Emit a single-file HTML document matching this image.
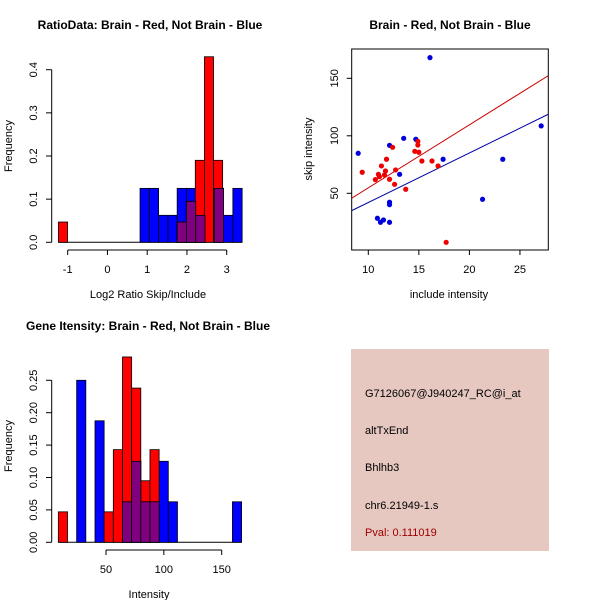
<!DOCTYPE html>
<html><head><meta charset="utf-8"><style>
body{margin:0;background:#fff}
svg{display:block}
text{font-family:"Liberation Sans",sans-serif;font-size:11px;fill:#000}
.t{font-weight:bold;font-size:12px}
</style></head><body>
<svg id="c" width="600" height="600" xmlns="http://www.w3.org/2000/svg">
<rect width="600" height="600" fill="#fff"/>
<text class="t" x="150" y="29" text-anchor="middle">RatioData: Brain - Red, Not Brain - Blue</text>
<text class="t" x="450" y="29" text-anchor="middle">Brain - Red, Not Brain - Blue</text>
<text class="t" x="148" y="330" text-anchor="middle">Gene Itensity: Brain - Red, Not Brain - Blue</text>
<text x="148" y="298" text-anchor="middle">Log2 Ratio Skip/Include</text>
<text x="449" y="298" text-anchor="middle">include intensity</text>
<text x="149" y="598" text-anchor="middle">Intensity</text>
<text transform="translate(12,146) rotate(-90)" text-anchor="middle">Frequency</text>
<text transform="translate(12,446) rotate(-90)" text-anchor="middle">Frequency</text>
<text transform="translate(312,149) rotate(-90)" text-anchor="middle">skip intensity</text>
<g id="g1"></g><g id="g2"></g><g id="g3"></g>
<g>
<rect x="351" y="349" width="198" height="202" fill="#e6c8c0"/>
<text x="365" y="397">G7126067@J940247_RC@i_at</text>
<text x="365" y="434">altTxEnd</text>
<text x="365" y="471">Bhlhb3</text>
<text x="365" y="509">chr6.21949-1.s</text>
<text x="365" y="536" style="fill:#a00000">Pval: 0.111019</text>
</g>
</svg>
<script>
// Ratio histogram (red and blue have own breaks)
const ratioRedStart=-1.233, ratioRedWidth=0.2295;
const ratioRed=[0.047,0,0,0,0,0,0,0,0,0,0,0,0,0.047,0.095,0.19,0.43,0.19];
const ratioBlueStart=0.82, ratioBlueWidth=0.2335;
const ratioBlue=[0.125,0.125,0.0625,0.0625,0.125,0.125,0.0625,0,0.125,0.0625,0.125];
const ratioXTicks=[-1,0,1,2,3];
const ratioYTicks=["0.0","0.1","0.2","0.3","0.4"];
// Intensity histogram
const intStart=8.8, intWidth=7.92;
const intRed=[0.047,0,0,0,0,0.047,0.143,0.286,0.238,0.095,0.143,0,0,0,0,0,0,0,0,0];
const intBlue=[0,0,0.25,0,0.1875,0,0,0.0625,0.125,0.0625,0.0625,0.125,0.0625,0,0,0,0,0,0,0.0625];
const intXTicks=[50,100,150];
const intYTicks=["0.00","0.05","0.10","0.15","0.20","0.25"];
// Scatter
const blueX=[9.0,16.1,13.5,12.1,13.1,14.7,17.4,10.9,11.2,11.5,12.1,12.1,12.1,21.3,23.3,27.1];
const blueY=[84.8,168,97.8,91.7,66.5,97,79.6,28.3,24.8,26.8,24.8,42.2,40.1,44.8,79.6,108.6];
const redX=[9.4,10.7,11.0,11.1,11.3,11.7,11.6,11.8,12.1,12.4,12.7,12.6,13.7,14.6,14.9,14.9,15.0,15.3,16.3,16.9,17.7];
const redY=[68.3,61.9,66.5,64.5,73.8,69.4,65.9,79.6,62.2,90,70.3,57.8,53.5,86.5,95.2,92,85.7,78.1,78.1,73.8,7.4];
const redFit=[-0.06,5.48];
const blueFit=[-1.1,4.31];
const scXTicks=[10,15,20,25];
const scYTicks=[50,100,150];

const NS="http://www.w3.org/2000/svg";
function mk(p,tag,a){const e=document.createElementNS(NS,tag);for(const k in a)e.setAttribute(k,a[k]);p.appendChild(e);return e;}

function hist(g,rs,rw,red,bs,bw,blue,xt,yt,xs,ys,y0,name){
  const lo=Math.min(rs,bs), hi=Math.max(rs+red.length*rw,bs+blue.length*bw);
  mk(g,'line',{x1:xs(lo),x2:xs(hi),y1:ys(0),y2:ys(0),stroke:'#000'});
  const redAt=v=>{const i=Math.floor((v-rs)/rw);return (i>=0&&i<red.length)?red[i]:0;};
  blue.forEach((bh,i)=>{
    if(bh<=0)return;
    const a=xs(bs+i*bw),b=xs(bs+(i+1)*bw);
    const r=mk(g,'rect',{x:a,y:ys(bh),width:b-a,height:ys(0)-ys(bh),fill:'#0000ff',stroke:'#000','stroke-width':0.8});
    
    
  });
  red.forEach((rh,i)=>{
    if(rh<=0)return;
    const a=xs(rs+i*rw),b=xs(rs+(i+1)*rw);
    const r=mk(g,'rect',{x:a,y:ys(rh),width:b-a,height:ys(0)-ys(rh),fill:'#ff0000',stroke:'#000','stroke-width':0.8});
    
    
  });
  blue.forEach((bh,i)=>{
    const m=Math.min(bh,redAt(bs+(i+0.5)*bw));
    if(m<=0)return;
    const a=xs(bs+i*bw),b=xs(bs+(i+1)*bw);
    const r=mk(g,'rect',{x:a,y:ys(m),width:b-a,height:ys(0)-ys(m),fill:'#800080',stroke:'#000','stroke-width':0.8});
    
    
  });
  const yv=yt.map(Number);
  mk(g,'line',{x1:51.7,x2:51.7,y1:ys(yv[0]),y2:ys(yv[yv.length-1]),stroke:'#000'});
  yt.forEach(t=>{const y=ys(Number(t));mk(g,'line',{x1:46,x2:51.7,y1:y,y2:y,stroke:'#000'});
    const tx=mk(g,'text',{transform:`translate(37,${y}) rotate(-90)`,'text-anchor':'middle'});tx.textContent=t;
    
    });
  mk(g,'line',{x1:xs(xt[0]),x2:xs(xt[xt.length-1]),y1:y0,y2:y0,stroke:'#000'});
  xt.forEach(t=>{const x=xs(t);mk(g,'line',{x1:x,x2:x,y1:y0,y2:y0+5,stroke:'#000'});
    const tx=mk(g,'text',{x:x,y:y0+23,'text-anchor':'middle'});tx.textContent=t;
    
    });
}
const x1=v=>67.7+(v+1)*39.75, y1=v=>242.3-v*431.5;
hist(document.getElementById('g1'),ratioRedStart,ratioRedWidth,ratioRed,ratioBlueStart,ratioBlueWidth,ratioBlue,ratioXTicks,ratioYTicks,x1,y1,250,'ratio');
const x3=v=>106+(v-50)*1.157, y3=v=>542.3-v*648;
hist(document.getElementById('g3'),intStart,intWidth,intRed,intStart,intWidth,intBlue,intXTicks,intYTicks,x3,y3,550,'intensity');

// scatter
const g2=document.getElementById('g2');
const sx=v=>368.3+(v-10)*10.11, sy=v=>193.3-(v-50)*1.15;
const L=351.7,R=548.3,T=49,B=250;
mk(g2,'defs',{}).innerHTML='<clipPath id="cp"><rect x="351.7" y="49" width="196.6" height="201"/></clipPath>';
const box=mk(g2,'rect',{x:L,y:T,width:R-L,height:B-T,fill:'none',stroke:'#000'});


const xlo=10+(L-368.3)/10.11, xhi=10+(R-368.3)/10.11;
[[redFit,'#cc0000','red-fit-line'],[blueFit,'#0000aa','blue-fit-line']].forEach(([f,c,n])=>{
  const l=mk(g2,'line',{x1:sx(xlo),y1:sy(f[0]+f[1]*xlo),x2:sx(xhi),y2:sy(f[0]+f[1]*xhi),stroke:c,'clip-path':'url(#cp)'});
  
  
});
blueX.forEach((v,i)=>{const c=mk(g2,'circle',{cx:sx(v),cy:sy(blueY[i]),r:2.6,fill:'#0000dd'});
  
  });
redX.forEach((v,i)=>{const c=mk(g2,'circle',{cx:sx(v),cy:sy(redY[i]),r:2.6,fill:'#ee0000'});
  
  });
scXTicks.forEach(t=>{const x=sx(t);mk(g2,'line',{x1:x,x2:x,y1:B,y2:B+5,stroke:'#000'});
  const tx=mk(g2,'text',{x:x,y:B+23,'text-anchor':'middle'});tx.textContent=t;
  
  });
scYTicks.forEach(t=>{const y=sy(t);mk(g2,'line',{x1:L-5,x2:L,y1:y,y2:y,stroke:'#000'});
  const tx=mk(g2,'text',{transform:`translate(338,${y}) rotate(-90)`,'text-anchor':'middle'});tx.textContent=t;
  
  });
</script>
</body></html>
